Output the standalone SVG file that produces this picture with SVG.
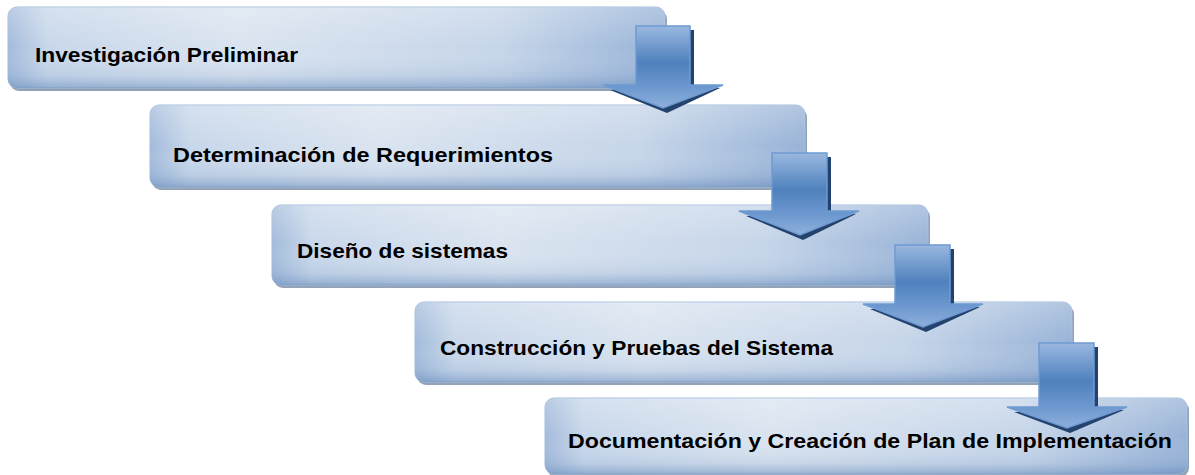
<svg xmlns="http://www.w3.org/2000/svg" width="1195" height="475" viewBox="0 0 1195 475">
<defs>
<linearGradient id="boxH" x1="0" y1="0" x2="1" y2="0">
<stop offset="0" stop-color="#a3bbdb"/>
<stop offset="0.06" stop-color="#c8d7ea"/>
<stop offset="0.35" stop-color="#dae4f0"/>
<stop offset="0.75" stop-color="#c6d5e9"/>
<stop offset="1" stop-color="#98b3d7"/>
</linearGradient>
<linearGradient id="boxV" x1="0" y1="0" x2="0" y2="1">
<stop offset="0" stop-color="#ffffff" stop-opacity="0.25"/>
<stop offset="0.5" stop-color="#ffffff" stop-opacity="0"/>
<stop offset="0.85" stop-color="#6f93c2" stop-opacity="0.15"/>
<stop offset="1" stop-color="#4f78ad" stop-opacity="0.45"/>
</linearGradient>
<linearGradient id="arrG" x1="0" y1="0" x2="0" y2="1">
<stop offset="0" stop-color="#9ab8e0"/>
<stop offset="0.45" stop-color="#4f81bd"/>
<stop offset="0.75" stop-color="#6d98cf"/>
<stop offset="1" stop-color="#8eb0dd"/>
</linearGradient>
<style>
.shadow{fill:#7f93ab;opacity:0.85}
.box{fill:url(#boxH);stroke:#a3bcdc;stroke-width:1}
.boxo{fill:url(#boxV)}
.lbl{font-family:"Liberation Sans",Arial,sans-serif;font-weight:bold;font-size:21px;fill:#000}
.arr{fill:url(#arrG);stroke:#6f9bd2;stroke-width:1.5}
.arrs{fill:#23436e}
</style>
</defs>

<g id="node1">
<rect class="shadow" x="10" y="10" width="657" height="81" rx="9"/>
<rect class="box" x="8" y="7" width="657" height="81" rx="9"/>
<rect class="boxo" x="8" y="7" width="657" height="81" rx="9"/>
<text class="lbl" x="35" y="62" textLength="263" lengthAdjust="spacingAndGlyphs">Investigación Preliminar</text>
</g>
<g id="node2">
<rect class="shadow" x="152" y="108" width="655" height="82" rx="9"/>
<rect class="box" x="150" y="105" width="655" height="82" rx="9"/>
<rect class="boxo" x="150" y="105" width="655" height="82" rx="9"/>
<text class="lbl" x="173" y="162" textLength="380" lengthAdjust="spacingAndGlyphs">Determinación de Requerimientos</text>
</g>
<g id="node3">
<rect class="shadow" x="274" y="208" width="656" height="80" rx="9"/>
<rect class="box" x="272" y="205" width="656" height="80" rx="9"/>
<rect class="boxo" x="272" y="205" width="656" height="80" rx="9"/>
<text class="lbl" x="297" y="258" textLength="211" lengthAdjust="spacingAndGlyphs">Diseño de sistemas</text>
</g>
<g id="node4">
<rect class="shadow" x="417" y="305" width="657" height="80" rx="9"/>
<rect class="box" x="415" y="302" width="657" height="80" rx="9"/>
<rect class="boxo" x="415" y="302" width="657" height="80" rx="9"/>
<text class="lbl" x="440" y="355" textLength="393" lengthAdjust="spacingAndGlyphs">Construcción y Pruebas del Sistema</text>
</g>
<g id="node5">
<rect class="shadow" x="547" y="401" width="642" height="76" rx="9"/>
<rect class="box" x="545" y="398" width="642" height="76" rx="9"/>
<rect class="boxo" x="545" y="398" width="642" height="76" rx="9"/>
<text class="lbl" x="568" y="448" textLength="604" lengthAdjust="spacingAndGlyphs">Documentación y Creación de Plan de Implementación</text>
</g>

<g id="connectors">
<g id="arrow1">
<polygon class="arrs" points="640,30 694,30 694,88 720,88 667,113 610,90 640,90"/>
<polygon class="arr" points="636,26 690,26 690,85 723,85 663,108 603,85 636,85"/>
</g>
<g id="arrow2">
<polygon class="arrs" points="776,157 831,157 831,214 856,214 803,240 746,216 776,216"/>
<polygon class="arr" points="772,153 827,153 827,211 859,211 800,235 739,211 772,211"/>
</g>
<g id="arrow3">
<polygon class="arrs" points="899,249 954,249 954,307 980,307 926,332 870,309 899,309"/>
<polygon class="arr" points="895,245 950,245 950,304 983,304 923,327 863,304 895,304"/>
</g>
<g id="arrow4">
<polygon class="arrs" points="1043,347 1098,347 1098,410 1124,410 1070,433 1014,412 1043,412"/>
<polygon class="arr" points="1039,343 1094,343 1094,407 1127,407 1067,428 1007,407 1039,407"/>
</g>
</g>
</svg>
